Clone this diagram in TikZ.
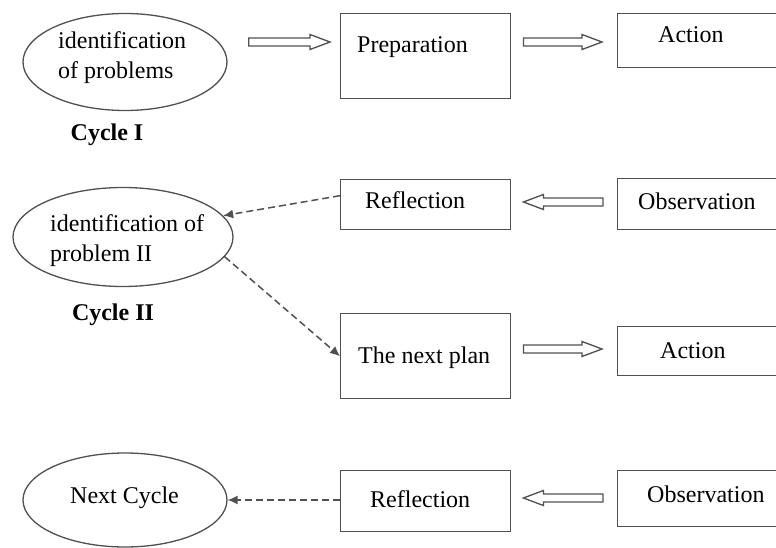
\documentclass[tikz,border=0pt]{standalone}
\usepackage{fontspec}
\setmainfont{Liberation Serif}
\usetikzlibrary{shapes.geometric,arrows.meta,calc}
\definecolor{linecol}{HTML}{505050}
\tikzset{
  txt/.style={inner sep=0pt, text=black, font=\fontsize{24}{30}\selectfont},
  boldtxt/.style={txt, font=\fontsize{24}{30}\selectfont\bfseries},
  box/.style={draw=linecol, line width=1.4pt, rectangle, inner sep=0pt, anchor=north west},
  oval/.style={draw=linecol, line width=1.3pt, ellipse, inner sep=0pt},
  dasharrow/.style={draw=linecol, line width=1.5pt, dash pattern=on 7pt off 4pt, -{Latex[length=10pt,width=9pt]}},
  hollow/.style={draw=linecol, line width=1.3pt, line join=miter,
    to path={let \p1=(\tikztostart), \p2=(\tikztotarget) in
      (\x1,{\y1+4pt}) -- ({\x2-(#1)*20pt},{\y1+4pt}) -- ({\x2-(#1)*20pt},{\y1+7.5pt})
      -- (\x2,\y1) -- ({\x2-(#1)*20pt},{\y1-7.5pt}) -- ({\x2-(#1)*20pt},{\y1-4pt})
      -- (\x1,{\y1-4pt}) -- cycle}}
}
\begin{document}
\begin{tikzpicture}[x=1pt,y=-1pt]
\clip (0,0) rectangle (776,548);
\fill[white] (0,0) rectangle (776,548);

% ellipses
\node[oval, minimum width=204pt, minimum height=97pt] (e1) at (125,62) {};
\node[oval, minimum width=220pt, minimum height=99pt] (e2) at (123,237) {};
\node[oval, minimum width=204pt, minimum height=94pt] (e3) at (125,500) {};
\node[txt, align=left, anchor=west] (t1) at (58,57.5) {identification\\of problems};
\node[txt, align=left, anchor=west] (t2) at (50,241) {identification of\\problem II};
\node[txt, anchor=base west] (t3) at (70,503) {Next Cycle};
\node[boldtxt, anchor=base] (c1) at (107,141) {Cycle I};
\node[boldtxt, anchor=base] (c2) at (113,320) {Cycle II};

% boxes
\node[box, minimum width=170pt, minimum height=85pt] (prep) at (340,13) {};
\node[box, minimum width=163pt, minimum height=54pt] (act1) at (617,13) {};
\node[box, minimum width=170pt, minimum height=50pt] (refl1) at (340,179) {};
\node[box, minimum width=163pt, minimum height=51pt] (obs1) at (617,178) {};
\node[box, minimum width=170pt, minimum height=85pt] (next) at (340,313) {};
\node[box, minimum width=163pt, minimum height=49pt] (act2) at (617,326) {};
\node[box, minimum width=170pt, minimum height=61pt] (refl2) at (340,470) {};
\node[box, minimum width=163pt, minimum height=56pt] (obs2) at (617,470) {};

% box texts
\node[txt, anchor=base west] (tprep) at (357,53) {Preparation};
\node[txt, anchor=base west] (tact1) at (658,43) {Action};
\node[txt, anchor=base west] (trefl1) at (365,208) {Reflection};
\node[txt, anchor=base west] (tobs1) at (638,210) {Observation};
\node[txt, anchor=base west] (tnext) at (358,363) {The next plan};
\node[txt, anchor=base west] (tact2) at (660,358) {Action};
\node[txt, anchor=base west] (trefl2) at (370,507) {Reflection};
\node[txt, anchor=base west] (tobs2) at (647,502) {Observation};

% hollow arrows
\draw[hollow=1] ([xshift=21pt]e1.east |- 0,42) to ([xshift=-10pt]prep.west |- 0,42);
\draw[hollow=1] ([xshift=12pt]prep.east |- 0,42) to ([xshift=-15pt]act1.west |- 0,42);
\draw[hollow=-1] ([xshift=-14pt]obs1.west |- 0,202) to ([xshift=12pt]refl1.east |- 0,202);
\draw[hollow=1] ([xshift=12pt]next.east |- 0,349) to ([xshift=-15pt]act2.west |- 0,349);
\draw[hollow=-1] ([xshift=-14pt]obs2.west |- 0,498) to ([xshift=12pt]refl2.east |- 0,498);

% dashed arrows
\draw[dasharrow] ([yshift=9pt]refl1.west) -- (e2.12);
\draw[dasharrow] (e2.-11) -- (next.west);
\draw[dasharrow] (refl2.west |- e3.east) -- (e3.east);
\end{tikzpicture}
\end{document}
